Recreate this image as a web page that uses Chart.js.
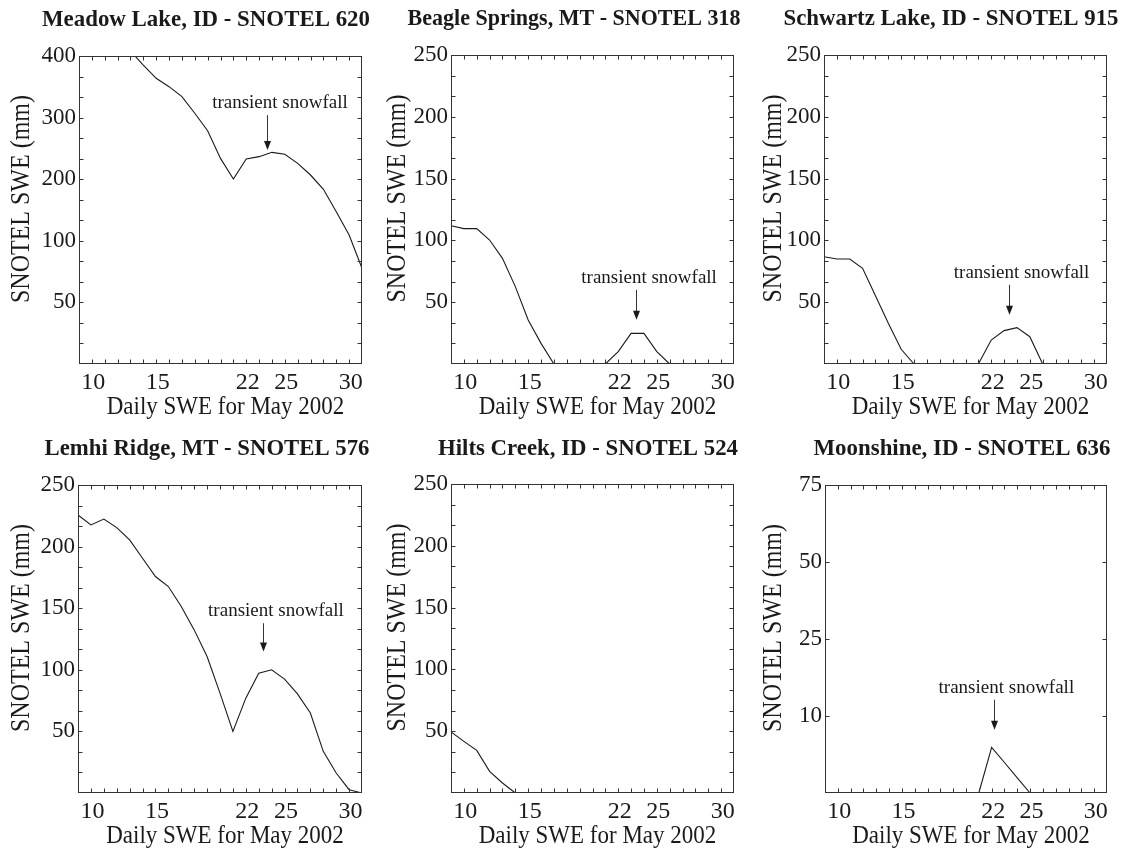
<!DOCTYPE html>
<html>
<head>
<meta charset="utf-8">
<title>SNOTEL SWE May 2002</title>
<script src="https://cdn.jsdelivr.net/npm/chart.js@4.4.1/dist/chart.umd.min.js"></script>
<style>
  body { margin: 0; background: #fff; }
  #wrap { position: relative; width: 1129px; height: 850px; overflow: hidden; }
  canvas { position: absolute; }
</style>
</head>
<body>
<div id="wrap"></div>
<script>
//---------------- data (day of May 2002) ----------------
var days = [9, 10, 11, 12, 13, 14, 15, 16, 17, 18, 19, 20, 21, 22, 23, 24, 25, 26, 27, 28, 29, 30, 31];
var xTickLabels = [10, 15, 22, 25, 30];

// values are in axis position units (Meadow Lake and Moonshine have uneven tick labels)
var meadowLake = [null, null, null, null, 254, 242.6, 231.9, 225.1, 217, 203.5, 189.4, 166.9, 150.2, 166.4, 168.3, 171.8, 170.2, 162.9, 153.4, 141.8, 123.6, 104.7, 77.7];
var beagleSprings = [111.9, 109.5, 109.5, 100.3, 85.5, 62.6, 35.6, 16.7, 0, 0, 0, 0, 0, 10, 24.8, 24.8, 10, 0, 0, 0, 0, 0, 0];
var schwartzLake = [86.8, 85, 85, 77.4, 55.3, 32.9, 11.9, 0, 0, 0, 0, 0, 0, 19.4, 27, 29.4, 22.1, 0, 0, 0, 0, 0, 0];
var lemhiRidge = [225.7, 217.6, 222.4, 215.4, 205.4, 190.5, 175.7, 167.6, 151.4, 132.4, 110.8, 81.1, 50, 77, 97.3, 100, 92.4, 80.5, 64.9, 33.8, 16.2, 2.7, 0];
var hiltsCreek = [49.4, 41.8, 34.5, 17.5, 8.1, 0, 0, 0, 0, 0, 0, 0, 0, 0, 0, 0, 0, 0, 0, 0, 0, 0, 0];
var moonshine = [0, 0, 0, 0, 0, 0, 0, 0, 0, 0, 0, 0, 0, 14.8, 9.9, 4.9, 0, 0, 0, 0, 0, 0, 0];

var yLabelsMeadow = ['', '50', '100', '200', '300', '400'];
var yLabels250 = ['', '50', '100', '150', '200', '250'];
var yLabelsMoon = ['', '10', '25', '50', '75'];

var titles = ['Meadow Lake, ID - SNOTEL 620', 'Beagle Springs, MT - SNOTEL 318', 'Schwartz Lake, ID - SNOTEL 915',
              'Lemhi Ridge, MT - SNOTEL 576', 'Hilts Creek, ID - SNOTEL 524', 'Moonshine, ID - SNOTEL 636'];
var xTitle = 'Daily SWE for May 2002';
var yTitle = 'SNOTEL SWE (mm)';
var noteText = 'transient snowfall';

// annotation anchors in data units: text (day, value), arrow (day, top value, tip value)
var noteMeadow = [24.62, 207.8, 23.65, 202, 173.7];
var noteBeagle = [24.4, 65.5, 23.4, 60, 35.7];
var noteSchwartz = [24.36, 69.6, 23.36, 64.1, 39.8];
var noteLemhi = [24.33, 143.8, 23.36, 137.8, 114.8];
var noteMoon = [23.15, 32.4, 22.2, 30.3, 20.5];

//---------------- layout ----------------
var SERIF = '"Liberation Serif", "Times New Roman", serif';
var INK = '#1a1a1a';

var panels = [
  {left: 0,   top: 0,   w: 376, h: 420, area: {l: 79, r: 362, t: 56, b: 364}, tx: 206, ty: 26, tw: 328, title: titles[0], series: meadowLake,    yMax: 250, yStep: 50, yMinor: 50 / 3, yLabels: yLabelsMeadow, note: noteMeadow},
  {left: 376, top: 0,   w: 376, h: 420, area: {l: 75, r: 358, t: 55, b: 364}, tx: 198, ty: 25, tw: 333, title: titles[1], series: beagleSprings, yMax: 250, yStep: 50, yMinor: 50 / 3, yLabels: yLabels250,    note: noteBeagle},
  {left: 752, top: 0,   w: 377, h: 420, area: {l: 72, r: 355, t: 55, b: 364}, tx: 199, ty: 25, tw: 335, title: titles[2], series: schwartzLake,  yMax: 250, yStep: 50, yMinor: 50 / 3, yLabels: yLabels250,    note: noteSchwartz},
  {left: 0,   top: 420, w: 376, h: 430, area: {l: 78, r: 362, t: 65, b: 373}, tx: 207, ty: 35, tw: 325, title: titles[3], series: lemhiRidge,    yMax: 250, yStep: 50, yMinor: 50 / 3, yLabels: yLabels250,    note: noteLemhi},
  {left: 376, top: 420, w: 376, h: 430, area: {l: 75, r: 358, t: 64, b: 373}, tx: 212, ty: 35, tw: 300, title: titles[4], series: hiltsCreek,    yMax: 250, yStep: 50, yMinor: 50 / 3, yLabels: yLabels250,    note: null},
  {left: 752, top: 420, w: 377, h: 430, area: {l: 73, r: 355, t: 65, b: 373}, tx: 210, ty: 35, tw: 297, title: titles[5], series: moonshine,     yMax: 100, yStep: 25, yMinor: 25,     yLabels: yLabelsMoon,   note: noteMoon}
];

// box, inward ticks, titles and the arrow note
function overlay(p) {
  return {
    id: 'overlay',
    afterDraw: function (chart) {
      var ctx = chart.ctx, a = chart.chartArea;
      var x = chart.scales.x, y = chart.scales.y;
      var L = Math.round(a.left) + 0.5, R = Math.round(a.right) - 0.5;
      var T = Math.round(a.top) + 0.5, B = Math.round(a.bottom) - 0.5;
      ctx.save();
      ctx.strokeStyle = '#333';
      ctx.lineWidth = 1;
      ctx.strokeRect(L, T, R - L, B - T);
      ctx.beginPath();
      for (var d = x.min + 1; d < x.max; d++) {
        var px = Math.round(x.getPixelForValue(d)) + 0.5;
        ctx.moveTo(px, B); ctx.lineTo(px, B - 4);
        ctx.moveTo(px, T); ctx.lineTo(px, T + 4);
      }
      var n = Math.round((y.max - y.min) / p.yMinor);
      for (var k = 1; k < n; k++) {
        var py = Math.round(y.getPixelForValue(y.min + k * p.yMinor)) + 0.5;
        ctx.moveTo(L, py); ctx.lineTo(L + 4, py);
        ctx.moveTo(R, py); ctx.lineTo(R - 4, py);
      }
      ctx.stroke();

      ctx.fillStyle = INK;
      ctx.textAlign = 'center';
      ctx.textBaseline = 'alphabetic';

      // panel title, stretched to the width seen in the figure
      ctx.save();
      ctx.font = 'bold 22px ' + SERIF;
      var sx = p.tw / ctx.measureText(p.title).width;
      ctx.translate(p.tx, p.ty);
      ctx.scale(sx, 1.04);
      ctx.fillText(p.title, 0, 0);
      ctx.restore();

      ctx.save();
      ctx.font = '23px ' + SERIF;
      ctx.translate((a.left + a.right) / 2 + 5, a.bottom + 50);
      ctx.scale(1, 1.08);
      ctx.fillText(xTitle, 0, 0);
      ctx.restore();

      ctx.save();
      ctx.translate(22, (a.top + a.bottom) / 2 - 11);
      ctx.rotate(-Math.PI / 2);
      ctx.scale(1, 1.12);
      ctx.font = '24px ' + SERIF;
      ctx.textBaseline = 'middle';
      ctx.fillText(yTitle, 0, 0);
      ctx.restore();

      if (p.note) {
        var nt = p.note;
        ctx.font = '19px ' + SERIF;
        ctx.fillText(noteText, x.getPixelForValue(nt[0]), y.getPixelForValue(nt[1]));
        var ax = Math.round(x.getPixelForValue(nt[2])) + 0.5;
        var y0 = y.getPixelForValue(nt[3]), y1 = y.getPixelForValue(nt[4]);
        ctx.beginPath();
        ctx.moveTo(ax, y0); ctx.lineTo(ax, y1 - 7);
        ctx.stroke();
        ctx.beginPath();
        ctx.moveTo(ax - 3.5, y1 - 9);
        ctx.lineTo(ax + 3.5, y1 - 9);
        ctx.lineTo(ax, y1);
        ctx.closePath();
        ctx.fill();
      }
      ctx.restore();
    }
  };
}

var wrap = document.getElementById('wrap');
panels.forEach(function (p) {
  var cv = document.createElement('canvas');
  cv.width = p.w; cv.height = p.h;
  cv.style.left = p.left + 'px';
  cv.style.top = p.top + 'px';
  wrap.appendChild(cv);

  var pts = days.map(function (d, i) { return {x: d, y: p.series[i]}; });

  new Chart(cv, {
    type: 'line',
    data: {
      datasets: [{
        data: pts,
        borderColor: INK,
        borderWidth: 1.1,
        pointRadius: 0,
        fill: false,
        tension: 0
      }]
    },
    options: {
      responsive: false,
      animation: false,
      devicePixelRatio: 1,
      layout: {padding: {left: 0, top: p.area.t, right: p.w - p.area.r, bottom: 0}},
      plugins: {legend: {display: false}, tooltip: {enabled: false}, title: {display: false}},
      scales: {
        x: {
          type: 'linear', min: 9, max: 31,
          afterFit: function (s) { s.height = p.h - p.area.b; },
          grid: {display: false, drawTicks: false},
          border: {display: false},
          ticks: {
            stepSize: 1, autoSkip: false, maxRotation: 0, minRotation: 0, padding: 4, labelOffset: 1.5,
            color: INK, font: {family: SERIF, size: 24},
            callback: function (v) { return xTickLabels.indexOf(v) >= 0 ? String(v) : ''; }
          }
        },
        y: {
          type: 'linear', min: 0, max: p.yMax,
          afterFit: function (s) { s.width = p.area.l; },
          grid: {display: false, drawTicks: false},
          border: {display: false},
          ticks: {
            stepSize: p.yStep, padding: 3,
            color: INK, font: {family: SERIF, size: 23},
            callback: function (v, i) { return p.yLabels[i]; }
          }
        }
      }
    },
    plugins: [overlay(p)]
  });
});
</script>
</body>
</html>
